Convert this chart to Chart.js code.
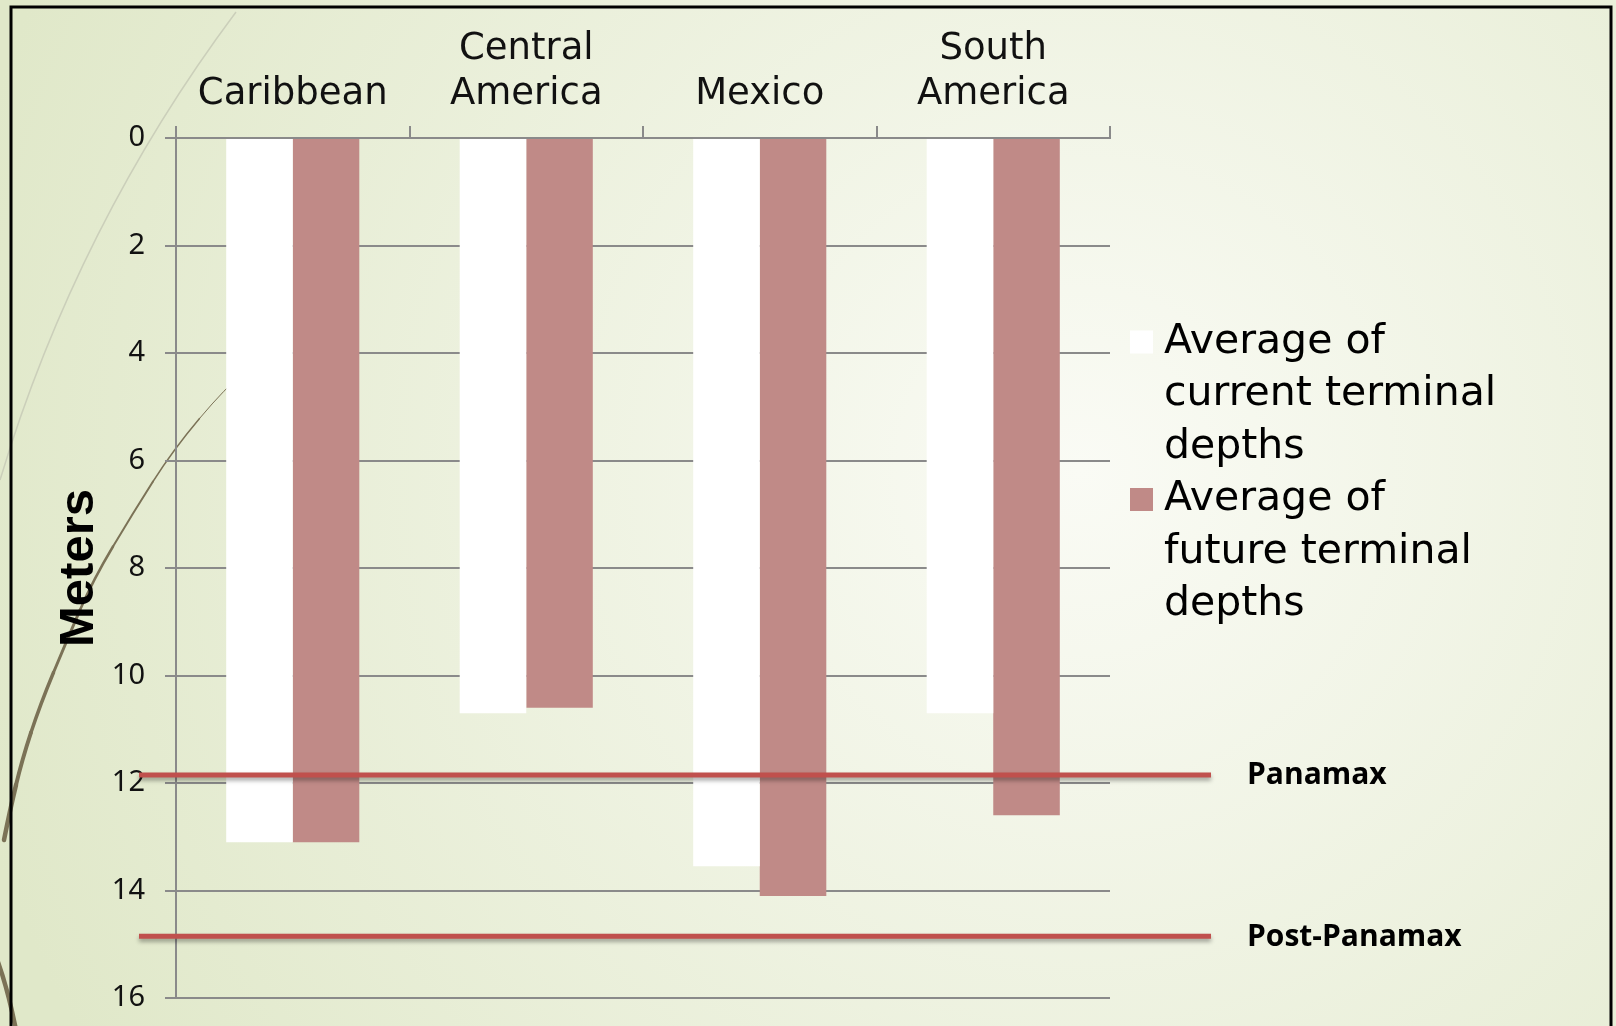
<!DOCTYPE html>
<html>
<head>
<meta charset="utf-8">
<script src="https://cdn.jsdelivr.net/npm/chart.js@4.4.1/dist/chart.umd.min.js"></script>
<style>
  html, body { margin: 0; padding: 0; background: #e4ebd2; }
  #wrap { width: 1616px; height: 1026px; }
</style>
</head>
<body>
<div id="wrap"><canvas id="chart" width="1616" height="1026"></canvas></div>
<script>
// data
const regions      = [['Caribbean'], ['Central', 'America'], ['Mexico'], ['South', 'America']];
const currentDepth = [13.1, 10.7, 13.55, 10.7];
const futureDepth  = [13.1, 10.6, 14.1, 12.6];
const seriesNames  = [['Average of', 'current terminal', 'depths'], ['Average of', 'future terminal', 'depths']];
const seriesColors = ['#ffffff', '#c08a87'];
const refNames     = ['Panamax', 'Post-Panamax'];
const refDepth     = [11.85, 14.85];
const depthMin = 0, depthMax = 16, depthStep = 2;

const GRID = '#8a8a8a';

// slide background, wisps and frame
const slideBg = {
  id: 'slideBg',
  beforeDraw(chart) {
    const ctx = chart.ctx, w = chart.width, h = chart.height;
    ctx.save();
    const g = ctx.createRadialGradient(1080, 470, 0, 1080, 470, 1150);
    g.addColorStop(0, '#fafbf5');
    g.addColorStop(1, '#e0e8c9');
    ctx.fillStyle = g;
    ctx.fillRect(0, 0, w, h);

    // light wisp
    ctx.strokeStyle = '#cbcfba';
    ctx.lineWidth = 1.5;
    ctx.beginPath();
    ctx.moveTo(236, 12);
    ctx.quadraticCurveTo(77, 225, 0, 480);
    ctx.stroke();

    // dark wisp, smoothed through points, thicker downwards
    const pts = [[262, 358], [226, 387], [173, 450], [133, 513], [93, 580], [67, 640], [40, 705], [22, 760], [10, 810], [-2, 870]];
    ctx.strokeStyle = '#7b7256';
    ctx.lineCap = 'round';
    const mid = (a, b) => [(a[0] + b[0]) / 2, (a[1] + b[1]) / 2];
    for (let i = 1; i < pts.length - 1; i++) {
      const s = mid(pts[i - 1], pts[i]), e = mid(pts[i], pts[i + 1]);
      ctx.lineWidth = 1 + 3.5 * (i - 1) / (pts.length - 3);
      ctx.beginPath();
      ctx.moveTo(s[0], s[1]);
      ctx.quadraticCurveTo(pts[i][0], pts[i][1], e[0], e[1]);
      ctx.stroke();
    }
    ctx.lineWidth = 4.5;
    ctx.beginPath();
    ctx.moveTo(-2, 962);
    ctx.quadraticCurveTo(8, 990, 16, 1030);
    ctx.stroke();

    // frame
    ctx.strokeStyle = '#000';
    ctx.lineWidth = 3;
    ctx.beginPath();
    ctx.moveTo(11, h + 5);
    ctx.lineTo(11, 7);
    ctx.lineTo(1611, 7);
    ctx.lineTo(1611, h + 5);
    ctx.stroke();
    ctx.restore();
  }
};

// Panamax / Post-Panamax draft lines
const refLines = {
  id: 'refLines',
  afterDatasetsDraw(chart) {
    const ctx = chart.ctx, y = chart.scales.y, area = chart.chartArea;
    refDepth.forEach((d, i) => {
      const py = y.getPixelForValue(d);
      ctx.save();
      ctx.shadowColor = 'rgba(0,0,0,0.35)';
      ctx.shadowBlur = 4;
      ctx.shadowOffsetY = 3;
      ctx.strokeStyle = '#c0504d';
      ctx.lineWidth = 5;
      ctx.beginPath();
      ctx.moveTo(area.left - 37, py);
      ctx.lineTo(area.right + 101, py);
      ctx.stroke();
      ctx.restore();

      ctx.save();
      ctx.fillStyle = '#000';
      ctx.font = 'bold 30px "Open Sans"';
      ctx.textBaseline = 'middle';
      ctx.fillText(refNames[i], area.right + 137, py + 1);
      ctx.restore();
    });
  }
};

// wrapped legend on the right
const sideLegend = {
  id: 'sideLegend',
  afterDraw(chart) {
    const ctx = chart.ctx;
    const lineH = 52.5;
    let yy = 342;
    ctx.save();
    ctx.font = '41px "DejaVu Sans"';
    ctx.textBaseline = 'middle';
    seriesNames.forEach((lines, i) => {
      ctx.fillStyle = seriesColors[i];
      ctx.fillRect(1130, yy - 11.5, 23, 23);
      ctx.fillStyle = '#000';
      lines.forEach((t, k) => ctx.fillText(t, 1164, yy + k * lineH));
      yy += lines.length * lineH;
    });
    ctx.restore();
  }
};

new Chart(document.getElementById('chart').getContext('2d'), {
  type: 'bar',
  data: {
    labels: regions,
    datasets: [
      {label: seriesNames[0].join(' '), data: currentDepth, backgroundColor: seriesColors[0], barPercentage: 1, categoryPercentage: 0.57},
      {label: seriesNames[1].join(' '), data: futureDepth,  backgroundColor: seriesColors[1], barPercentage: 1, categoryPercentage: 0.57},
    ]
  },
  options: {
    responsive: false,
    animation: false,
    devicePixelRatio: 1,
    layout: {padding: {left: 0, top: 0, right: 506, bottom: 28}},
    plugins: {legend: {display: false}, tooltip: {enabled: false}},
    scales: {
      x: {
        position: 'top',
        afterFit: s => { s.height = 138; },
        grid: {drawOnChartArea: false, tickLength: 12, color: GRID, lineWidth: 2, offset: true},
        border: {color: GRID, width: 2},
        ticks: {color: '#111', font: {family: 'DejaVu Sans', size: 37, lineHeight: 1.22}, padding: 9, maxRotation: 0, autoSkip: false}
      },
      y: {
        reverse: true,
        min: depthMin,
        max: depthMax,
        afterFit: s => { s.width = 176; s.paddingTop = 0; s.paddingBottom = 0; },
        grid: {color: GRID, lineWidth: 2, tickLength: 11},
        border: {color: GRID, width: 2},
        ticks: {stepSize: depthStep, color: '#111', font: {family: 'Noto Sans', size: 29}, padding: 20},
        title: {display: true, text: 'Meters', color: '#000', font: {family: 'Liberation Sans', size: 49, weight: 'bold'}, padding: {top: 50, bottom: 0}}
      }
    }
  },
  plugins: [slideBg, refLines, sideLegend]
});
</script>
</body>
</html>
